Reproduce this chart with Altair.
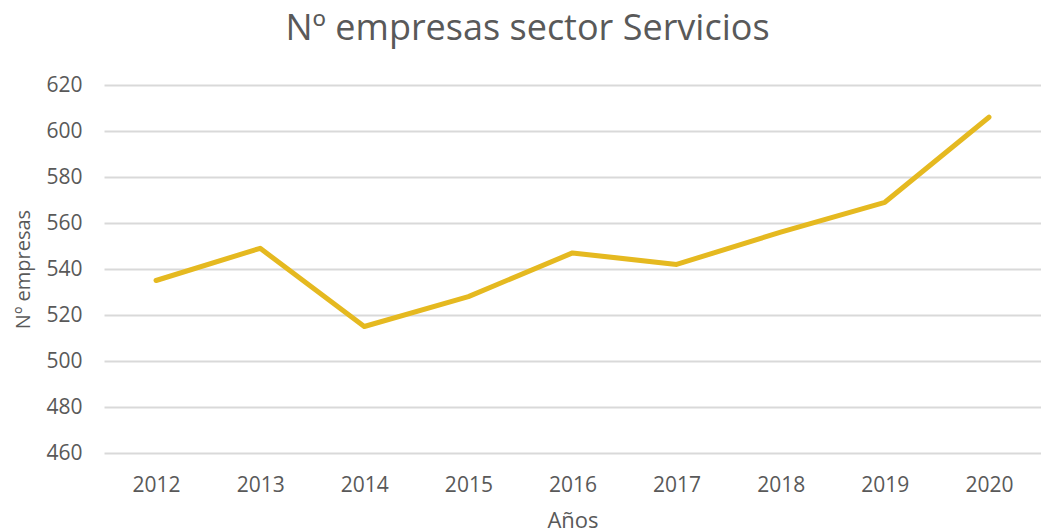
import altair as alt
import pandas as pd

years = ["2012", "2013", "2014", "2015", "2016", "2017", "2018", "2019", "2020"]
empresas = [535, 549, 515, 528, 547, 542, 556, 569, 606]
y_ticks = [460, 480, 500, 520, 540, 560, 580, 600, 620]

df = pd.DataFrame({"year": years, "empresas": empresas})

FONT = "Open Sans"
GREY = "#595959"

chart = alt.Chart(df).mark_line(
    color="#E5B920", strokeWidth=5, strokeCap="round", strokeJoin="round"
).encode(
    x=alt.X("year:O", sort=years,
            axis=alt.Axis(title="Años", labelAngle=0, domain=False, ticks=False, tickSize=0,
                          labelFontSize=21, labelColor=GREY, labelPadding=21, labelFont=FONT,
                          titleFontSize=22, titleColor=GREY, titleFont=FONT, titleFontWeight="normal",
                          titleY=74, titleBaseline="alphabetic")),
    y=alt.Y("empresas:Q",
            scale=alt.Scale(domain=[460, 620], nice=False, zero=False),
            axis=alt.Axis(title="Nº empresas", values=y_ticks, domain=False, ticks=False, tickSize=0,
                          grid=True, gridColor="#D9D9D9", gridWidth=2,
                          labelFontSize=21, labelColor=GREY, labelPadding=22, labelFont=FONT,
                          titleFontSize=20, titleColor=GREY, titleFont=FONT, titleFontWeight="normal",
                          titleX=-81, titleY=184, titleBaseline="middle", titleAngle=270)),
).properties(
    width=937,
    height=368,
    title=alt.TitleParams("Nº empresas sector Servicios", fontSize=36, font=FONT, color=GREY,
                          fontWeight="normal", anchor="middle", dx=-45, offset=26),
    autosize=alt.AutoSizeParams(type="none"),
    padding={"left": 96, "top": 77, "right": 0, "bottom": 78},
).configure(background="white").configure_view(stroke=None)

chart.save("out.html", embed_options={"renderer": "svg", "actions": False})
